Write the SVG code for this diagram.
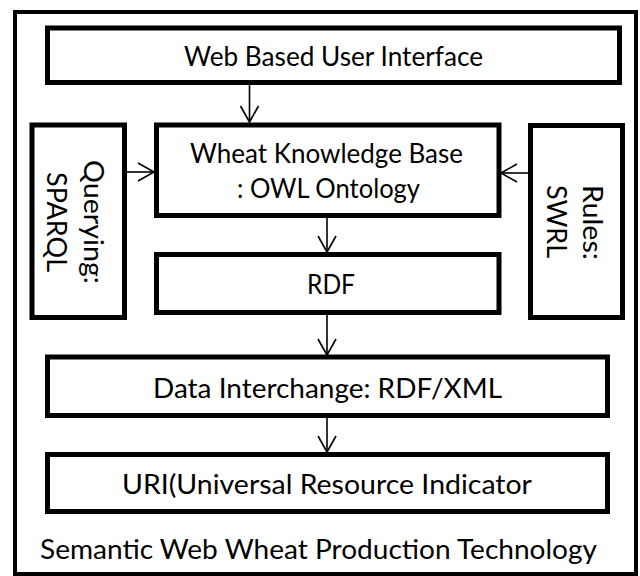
<svg xmlns="http://www.w3.org/2000/svg" width="640" height="576" viewBox="0 0 640 576">
<defs>
<style>
.box{fill:#fff;stroke:#000;stroke-width:5}
.frame{fill:#fff;stroke:#000;stroke-width:4}
.t{font-family:Lato,"Open Sans","Liberation Sans",sans-serif;font-size:26px;fill:#000;text-anchor:middle}
.c{fill:none;stroke:#000;stroke-width:1.6}
</style>
<marker id="arr" markerUnits="userSpaceOnUse" markerWidth="22" markerHeight="22" viewBox="-19 -11 22 22" refX="0" refY="0" orient="auto">
<path d="M-16,-9 L0,0 L-16,9" fill="none" stroke="#000" stroke-width="1.6"/>
</marker>
</defs>
<rect width="640" height="576" fill="#fff"/>
<g id="frame">
<rect class="frame" x="15" y="12" width="621" height="562"/>
<text class="t" x="318.5" y="559" textLength="557" lengthAdjust="spacingAndGlyphs">Semantic Web Wheat Production Technology</text>
</g>
<g id="web">
<rect class="box" x="47.5" y="28" width="572" height="54.5"/>
<text class="t" x="333.5" y="66" textLength="299" lengthAdjust="spacingAndGlyphs">Web Based User Interface</text>
</g>
<g id="querying">
<rect class="box" x="32" y="125" width="92.5" height="192.5"/>
<text class="t" transform="translate(84,222) rotate(90)" x="0" y="0" textLength="124" lengthAdjust="spacingAndGlyphs">Querying:</text>
<text class="t" transform="translate(47,222) rotate(90)" x="0" y="0" textLength="100" lengthAdjust="spacingAndGlyphs">SPARQL</text>
</g>
<g id="kb">
<rect class="box" x="156.5" y="125" width="342.5" height="90.5"/>
<text class="t" x="326.5" y="163" textLength="273" lengthAdjust="spacingAndGlyphs">Wheat Knowledge Base</text>
<text class="t" x="328.5" y="198" textLength="183" lengthAdjust="spacingAndGlyphs">: OWL Ontology</text>
</g>
<g id="rules">
<rect class="box" x="530.5" y="125.5" width="92" height="192"/>
<text class="t" transform="translate(583,222.5) rotate(90)" x="0" y="0" textLength="75" lengthAdjust="spacingAndGlyphs">Rules:</text>
<text class="t" transform="translate(547,221.5) rotate(90)" x="0" y="0" textLength="73" lengthAdjust="spacingAndGlyphs">SWRL</text>
</g>
<g id="rdf">
<rect class="box" x="156.5" y="254.5" width="342.5" height="58"/>
<text class="t" x="331" y="294" textLength="48" lengthAdjust="spacingAndGlyphs">RDF</text>
</g>
<g id="data">
<rect class="box" x="47.5" y="357" width="560" height="58.5"/>
<text class="t" x="327.5" y="398" textLength="349" lengthAdjust="spacingAndGlyphs">Data Interchange: RDF/XML</text>
</g>
<g id="uri">
<rect class="box" x="47.5" y="454.5" width="560" height="57"/>
<text class="t" x="327" y="494" textLength="410" lengthAdjust="spacingAndGlyphs">URI(Universal Resource Indicator</text>
</g>
<g id="connectors">
<line class="c" x1="249.5" y1="85" x2="249.5" y2="122" marker-end="url(#arr)"/>
<line class="c" x1="327" y1="218" x2="327" y2="252" marker-end="url(#arr)"/>
<line class="c" x1="327" y1="315" x2="327" y2="355" marker-end="url(#arr)"/>
<line class="c" x1="327" y1="418" x2="327" y2="452" marker-end="url(#arr)"/>
<line class="c" x1="127" y1="172" x2="154" y2="172" marker-end="url(#arr)"/>
<line class="c" x1="528" y1="173" x2="501" y2="173" marker-end="url(#arr)"/>
</g>
</svg>
